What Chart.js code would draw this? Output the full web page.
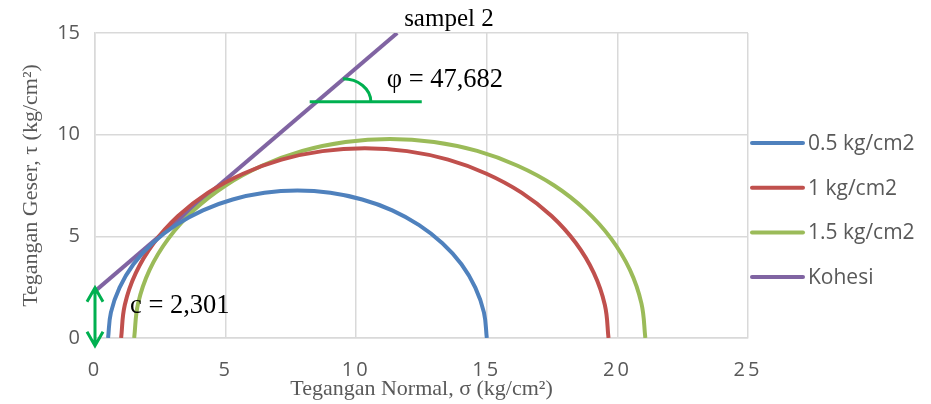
<!DOCTYPE html>
<html>
<head>
<meta charset="utf-8">
<script src="https://cdn.jsdelivr.net/npm/chart.js@4.4.1/dist/chart.umd.min.js"></script>
<style>
html, body { margin: 0; padding: 0; background: #fff; }
#wrap { width: 931px; height: 404px; position: relative; }
</style>
</head>
<body>
<div id="wrap"><canvas id="myChart"></canvas></div>
<script>
// data (lingkaran Mohr, sampel 2)
var judul = 'sampel 2';
var labelSeri = ['0.5 kg/cm2', '1 kg/cm2', '1.5 kg/cm2', 'Kohesi'];

// 0.5 kg/cm2
var sigma1 = [0.50, 0.61, 0.94, 1.47, 2.20, 3.09, 4.13, 5.27, 6.49, 7.75, 9.01, 10.23, 11.38, 12.41, 13.30, 14.03, 14.56, 14.89, 15.00];
var tau1   = [0.00, 1.26, 2.48, 3.63, 4.66, 5.55, 6.28, 6.81, 7.14, 7.25, 7.14, 6.81, 6.28, 5.55, 4.66, 3.63, 2.48, 1.26, 0.00];
// 1 kg/cm2
var sigma2 = [1.00, 1.14, 1.56, 2.25, 3.18, 4.33, 5.67, 7.14, 8.71, 10.33, 11.95, 13.52, 14.99, 16.33, 17.48, 18.41, 19.10, 19.52, 19.66];
var tau2   = [0.00, 1.62, 3.19, 4.67, 6.00, 7.15, 8.08, 8.77, 9.19, 9.33, 9.19, 8.77, 8.08, 7.15, 6.00, 4.67, 3.19, 1.62, 0.00];
// 1.5 kg/cm2
var sigma3 = [1.50, 1.65, 2.09, 2.81, 3.79, 5.00, 6.39, 7.94, 9.59, 11.29, 12.98, 14.63, 16.18, 17.58, 18.78, 19.76, 20.48, 20.92, 21.07];
var tau3   = [0.00, 1.70, 3.35, 4.89, 6.29, 7.50, 8.47, 9.20, 9.64, 9.79, 9.64, 9.20, 8.47, 7.50, 6.29, 4.89, 3.35, 1.70, 0.00];
// garis kohesi
var sigmaKoh = [0, 11.57];
var tauKoh   = [2.301, 15];

var teksPhi = 'φ = 47,682';
var teksC = 'c = 2,301';

var fontSans = "'Open Sans', 'Liberation Sans', sans-serif";
var fontSerif = "'Liberation Serif', 'Times New Roman', serif";
var abu = '#595959';
var hijau = '#00b050';

function gabung(xs, ys) {
    return xs.map(function (x, i) { return { x: x, y: ys[i] }; });
}

function seri(label, xs, ys, warna, lengkung) {
    return {
        label: label,
        data: gabung(xs, ys),
        showLine: true,
        borderColor: warna,
        backgroundColor: warna,
        borderWidth: 4,
        pointRadius: 0,
        pointHoverRadius: 0,
        tension: lengkung ? 0.4 : 0,
        fill: false
    };
}

// gambar judul, anotasi hijau, dan legenda
var hiasan = {
    id: 'hiasan',
    afterLayout: function (chart) {
        var sx = chart.scales.x;
        if (sx && !sx._jarak) {
            var asli = sx.drawLabels;
            sx.drawLabels = function (area) {
                var c = this.ctx;
                c.save();
                c.letterSpacing = '3px';
                asli.call(this, area);
                c.restore();
            };
            sx._jarak = true;
        }
    },
    afterDraw: function (chart) {
        var c = chart.ctx, a = chart.chartArea;
        var sx = chart.scales.x, sy = chart.scales.y;
        c.save();

        // judul
        c.fillStyle = '#000';
        c.font = '25px ' + fontSerif;
        c.textAlign = 'center';
        c.textBaseline = 'alphabetic';
        c.fillText(judul, sx.getPixelForValue(13.55), a.top - 7);

        // sudut phi
        c.strokeStyle = hijau;
        c.lineWidth = 3;
        var yH = sy.getPixelForValue(11.62);
        c.beginPath();
        c.moveTo(sx.getPixelForValue(8.22), yH);
        c.lineTo(sx.getPixelForValue(12.51), yH);
        c.stroke();
        var cx = sx.getPixelForValue(9.49);
        var rx = sx.getPixelForValue(10.56) - cx;
        var ry = yH - sy.getPixelForValue(12.75);
        c.beginPath();
        c.ellipse(cx, yH, rx, ry, 0, -Math.PI / 2, 0);
        c.stroke();

        // panah kohesi
        var px = sx.getPixelForValue(0);
        var atas = sy.getPixelForValue(2.47);
        var bawah = sy.getPixelForValue(-0.38);
        c.beginPath();
        c.moveTo(px, atas);
        c.lineTo(px, bawah);
        c.moveTo(px - 8, atas + 14);
        c.lineTo(px, atas);
        c.lineTo(px + 8, atas + 14);
        c.moveTo(px - 8, bawah - 14);
        c.lineTo(px, bawah);
        c.lineTo(px + 8, bawah - 14);
        c.stroke();

        // teks anotasi
        c.fillStyle = '#000';
        c.font = '26.5px ' + fontSerif;
        c.textAlign = 'left';
        c.fillText(teksPhi, sx.getPixelForValue(11.17), sy.getPixelForValue(12.36));
        c.fillText(teksC, sx.getPixelForValue(1.34), sy.getPixelForValue(1.24));

        // legenda
        c.font = '21px ' + fontSans;
        c.textBaseline = 'middle';
        c.lineCap = 'round';
        c.lineWidth = 4;
        chart.data.datasets.forEach(function (ds, i) {
            var y = a.top + 110 + i * 44.7;
            var x0 = a.right + 4;
            c.strokeStyle = ds.borderColor;
            c.beginPath();
            c.moveTo(x0, y);
            c.lineTo(x0 + 51, y);
            c.stroke();
            c.fillStyle = abu;
            c.fillText(ds.label, x0 + 56, y + 1);
        });
        c.restore();
    }
};

var ctx = document.getElementById('myChart').getContext('2d');
var myChart = new Chart(ctx, {
    type: 'scatter',
    data: {
        datasets: [
            seri(labelSeri[0], sigma1, tau1, '#4f81bd', true),
            seri(labelSeri[1], sigma2, tau2, '#c0504d', true),
            seri(labelSeri[2], sigma3, tau3, '#9bbb59', true),
            seri(labelSeri[3], sigmaKoh, tauKoh, '#8064a2', false)
        ]
    },
    options: {
        responsive: true,
        maintainAspectRatio: false,
        animation: false,
        layout: { padding: { top: 33, right: 183, left: 0, bottom: 0 } },
        plugins: {
            legend: { display: false },
            title: { display: false },
            tooltip: { enabled: false }
        },
        scales: {
            x: {
                type: 'linear',
                min: 0,
                max: 25,
                afterFit: function (s) { s.height = 66; },
                grid: { color: '#d9d9d9', lineWidth: 1.5, drawTicks: false },
                border: { color: '#d9d9d9', width: 1.5 },
                ticks: {
                    stepSize: 5,
                    padding: 20,
                    color: abu,
                    font: { family: fontSans, size: 20 }
                },
                title: {
                    display: true,
                    text: 'Tegangan Normal, σ (kg/cm²)',
                    color: abu,
                    font: { family: fontSerif, size: 22 },
                    padding: { top: 0, bottom: 2 }
                }
            },
            y: {
                type: 'linear',
                min: 0,
                max: 15,
                afterFit: function (s) { s.width = 95; },
                grid: { color: '#d9d9d9', lineWidth: 1.5, drawTicks: false },
                border: { color: '#d9d9d9', width: 1.5 },
                ticks: {
                    stepSize: 5,
                    padding: 15,
                    color: abu,
                    font: { family: fontSans, size: 20 }
                },
                title: {
                    display: true,
                    text: 'Tegangan Geser, τ (kg/cm²)',
                    color: abu,
                    font: { family: fontSerif, size: 22 },
                    padding: { top: 18, bottom: 0 }
                }
            }
        }
    },
    plugins: [hiasan]
});
</script>
</body>
</html>
